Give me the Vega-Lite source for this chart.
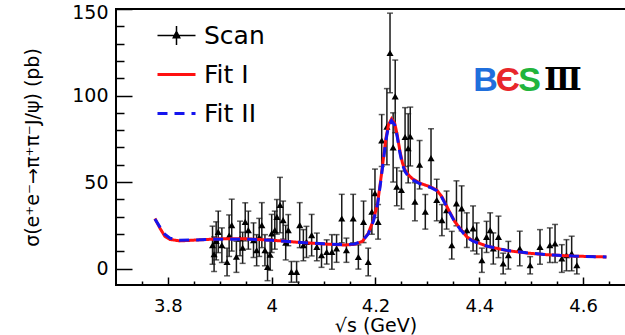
{
  "$schema": "https://vega.github.io/schema/vega-lite/v6.json",
  "width": 510,
  "height": 276,
  "autosize": {"type": "none"},
  "padding": {"left": 116, "top": 9, "right": 0, "bottom": 50},
  "background": "white",
  "config": {
    "view": {"stroke": "black", "strokeWidth": 2},
    "font": "DejaVu Sans",
    "axis": {"domain": false, "grid": false, "labelFont": "DejaVu Sans", "titleFont": "DejaVu Sans", "labelColor": "black", "titleColor": "black", "tickColor": "black", "tickWidth": 1.5, "titleFontWeight": "normal", "labelOverlap": false, "labelBound": false, "labelFlush": false}
  },
  "resolve": {"axis": {"x": "independent", "y": "independent"}},
  "datasets": {
    "scan": [
      {"E": 3.886, "sigma": 13.5, "err": 11}, {"E": 3.889, "sigma": 8.3, "err": 10}, {"E": 3.893, "sigma": 16, "err": 11},
      {"E": 3.897, "sigma": 21.2, "err": 12}, {"E": 3.904, "sigma": 13.5, "err": 10}, {"E": 3.914, "sigma": 3.8, "err": 8},
      {"E": 3.918, "sigma": 19, "err": 12}, {"E": 3.923, "sigma": 25.1, "err": 15}, {"E": 3.932, "sigma": 6.8, "err": 9},
      {"E": 3.939, "sigma": 17.4, "err": 10}, {"E": 3.944, "sigma": 12, "err": 9}, {"E": 3.949, "sigma": 27.0, "err": 11},
      {"E": 3.955, "sigma": 22.2, "err": 11}, {"E": 3.965, "sigma": 16.4, "err": 10}, {"E": 3.971, "sigma": 10.6, "err": 9},
      {"E": 3.976, "sigma": 18, "err": 11}, {"E": 3.981, "sigma": 25.1, "err": 13}, {"E": 3.987, "sigma": 10.6, "err": 9},
      {"E": 3.992, "sigma": 1.0, "err": 8}, {"E": 3.997, "sigma": 8, "err": 9}, {"E": 4.000, "sigma": 20.3, "err": 11},
      {"E": 4.006, "sigma": 22.2, "err": 11}, {"E": 4.010, "sigma": 29.9, "err": 10}, {"E": 4.016, "sigma": 36.7, "err": 16},
      {"E": 4.022, "sigma": 28.0, "err": 11}, {"E": 4.027, "sigma": 15, "err": 10}, {"E": 4.032, "sigma": 22.2, "err": 9},
      {"E": 4.038, "sigma": -1.9, "err": 6}, {"E": 4.048, "sigma": -1.9, "err": 6}, {"E": 4.054, "sigma": 25.1, "err": 13},
      {"E": 4.061, "sigma": 13.5, "err": 9}, {"E": 4.067, "sigma": 15.4, "err": 9}, {"E": 4.077, "sigma": 19.3, "err": 12},
      {"E": 4.087, "sigma": 12.5, "err": 8}, {"E": 4.096, "sigma": 7.7, "err": 7}, {"E": 4.106, "sigma": 9.6, "err": 7},
      {"E": 4.116, "sigma": 9.6, "err": 10}, {"E": 4.125, "sigma": 11.6, "err": 8}, {"E": 4.135, "sigma": 28.9, "err": 14},
      {"E": 4.144, "sigma": 10.6, "err": 7}, {"E": 4.157, "sigma": 28.9, "err": 14}, {"E": 4.167, "sigma": 6.7, "err": 7},
      {"E": 4.177, "sigma": 27.0, "err": 12}, {"E": 4.186, "sigma": 3.8, "err": 8}, {"E": 4.193, "sigma": 32.8, "err": 13},
      {"E": 4.199, "sigma": 43.5, "err": 14}, {"E": 4.205, "sigma": 27.0, "err": 10}, {"E": 4.212, "sigma": 74, "err": 15},
      {"E": 4.222, "sigma": 82, "err": 22}, {"E": 4.228, "sigma": 124.6, "err": 23}, {"E": 4.234, "sigma": 70, "err": 20},
      {"E": 4.238, "sigma": 99.5, "err": 21}, {"E": 4.241, "sigma": 47.3, "err": 11}, {"E": 4.250, "sigma": 45.4, "err": 11},
      {"E": 4.257, "sigma": 76, "err": 17}, {"E": 4.263, "sigma": 69.5, "err": 20}, {"E": 4.267, "sigma": 76.3, "err": 17},
      {"E": 4.276, "sigma": 38.6, "err": 11}, {"E": 4.285, "sigma": 60, "err": 14}, {"E": 4.296, "sigma": 32.8, "err": 10},
      {"E": 4.307, "sigma": 63.8, "err": 17}, {"E": 4.318, "sigma": 39.6, "err": 12}, {"E": 4.328, "sigma": 28.0, "err": 9},
      {"E": 4.337, "sigma": 33.8, "err": 11}, {"E": 4.347, "sigma": 13.5, "err": 8}, {"E": 4.356, "sigma": 37.7, "err": 13},
      {"E": 4.366, "sigma": 34.8, "err": 13}, {"E": 4.376, "sigma": 22.2, "err": 10}, {"E": 4.388, "sigma": 23.2, "err": 13},
      {"E": 4.395, "sigma": 17.4, "err": 9}, {"E": 4.405, "sigma": 4.8, "err": 7}, {"E": 4.414, "sigma": 18.3, "err": 9},
      {"E": 4.421, "sigma": 22.2, "err": 10}, {"E": 4.427, "sigma": 11.6, "err": 9}, {"E": 4.437, "sigma": 18.3, "err": 12},
      {"E": 4.446, "sigma": 2.9, "err": 6}, {"E": 4.456, "sigma": 7.7, "err": 8}, {"E": 4.478, "sigma": 11.6, "err": 10},
      {"E": 4.498, "sigma": 1.9, "err": 5}, {"E": 4.517, "sigma": 12.5, "err": 10}, {"E": 4.536, "sigma": 13.5, "err": 10},
      {"E": 4.546, "sigma": 14.5, "err": 11}, {"E": 4.559, "sigma": 5.8, "err": 8}, {"E": 4.568, "sigma": 7.7, "err": 9},
      {"E": 4.578, "sigma": 8.7, "err": 10}, {"E": 4.588, "sigma": 1.9, "err": 5}
    ],
    "fits": [
      {"fit": "Fit I", "E": 3.775, "sigma": 28.9}, {"fit": "Fit I", "E": 3.785, "sigma": 23.2}, {"fit": "Fit I", "E": 3.794, "sigma": 18.7},
      {"fit": "Fit I", "E": 3.804, "sigma": 16.8}, {"fit": "Fit I", "E": 3.823, "sigma": 16.0}, {"fit": "Fit I", "E": 3.849, "sigma": 16.4},
      {"fit": "Fit I", "E": 3.9, "sigma": 17.2}, {"fit": "Fit I", "E": 3.95, "sigma": 17.2}, {"fit": "Fit I", "E": 4.0, "sigma": 16.4},
      {"fit": "Fit I", "E": 4.05, "sigma": 15.2}, {"fit": "Fit I", "E": 4.1, "sigma": 14.2}, {"fit": "Fit I", "E": 4.14, "sigma": 13.6},
      {"fit": "Fit I", "E": 4.16, "sigma": 14.0}, {"fit": "Fit I", "E": 4.175, "sigma": 15.8}, {"fit": "Fit I", "E": 4.186, "sigma": 20.3},
      {"fit": "Fit I", "E": 4.196, "sigma": 28.0}, {"fit": "Fit I", "E": 4.204, "sigma": 37.7}, {"fit": "Fit I", "E": 4.21, "sigma": 51},
      {"fit": "Fit I", "E": 4.215, "sigma": 63}, {"fit": "Fit I", "E": 4.22, "sigma": 75}, {"fit": "Fit I", "E": 4.225, "sigma": 83},
      {"fit": "Fit I", "E": 4.231, "sigma": 86.5}, {"fit": "Fit I", "E": 4.237, "sigma": 84}, {"fit": "Fit I", "E": 4.242, "sigma": 77},
      {"fit": "Fit I", "E": 4.247, "sigma": 68}, {"fit": "Fit I", "E": 4.252, "sigma": 61}, {"fit": "Fit I", "E": 4.257, "sigma": 57},
      {"fit": "Fit I", "E": 4.264, "sigma": 54}, {"fit": "Fit I", "E": 4.27, "sigma": 52.2}, {"fit": "Fit I", "E": 4.286, "sigma": 49.3},
      {"fit": "Fit I", "E": 4.305, "sigma": 47.3}, {"fit": "Fit I", "E": 4.318, "sigma": 45.4}, {"fit": "Fit I", "E": 4.328, "sigma": 41.5},
      {"fit": "Fit I", "E": 4.341, "sigma": 33.8}, {"fit": "Fit I", "E": 4.353, "sigma": 27.0}, {"fit": "Fit I", "E": 4.363, "sigma": 23.2},
      {"fit": "Fit I", "E": 4.376, "sigma": 18.3}, {"fit": "Fit I", "E": 4.388, "sigma": 16.0}, {"fit": "Fit I", "E": 4.414, "sigma": 13.0},
      {"fit": "Fit I", "E": 4.453, "sigma": 10.4}, {"fit": "Fit I", "E": 4.491, "sigma": 9.0}, {"fit": "Fit I", "E": 4.53, "sigma": 8.0},
      {"fit": "Fit I", "E": 4.581, "sigma": 7.2}, {"fit": "Fit I", "E": 4.645, "sigma": 6.7},
      {"fit": "Fit II", "E": 3.775, "sigma": 28.6}, {"fit": "Fit II", "E": 3.785, "sigma": 23.8}, {"fit": "Fit II", "E": 3.794, "sigma": 19.8},
      {"fit": "Fit II", "E": 3.804, "sigma": 17.6}, {"fit": "Fit II", "E": 3.823, "sigma": 16.4}, {"fit": "Fit II", "E": 3.849, "sigma": 16.5},
      {"fit": "Fit II", "E": 3.9, "sigma": 17.0}, {"fit": "Fit II", "E": 3.95, "sigma": 17.0}, {"fit": "Fit II", "E": 4.0, "sigma": 16.3},
      {"fit": "Fit II", "E": 4.05, "sigma": 15.2}, {"fit": "Fit II", "E": 4.1, "sigma": 14.3}, {"fit": "Fit II", "E": 4.14, "sigma": 13.8},
      {"fit": "Fit II", "E": 4.16, "sigma": 14.2}, {"fit": "Fit II", "E": 4.175, "sigma": 16.0}, {"fit": "Fit II", "E": 4.186, "sigma": 20.0},
      {"fit": "Fit II", "E": 4.196, "sigma": 27.5}, {"fit": "Fit II", "E": 4.204, "sigma": 37.0}, {"fit": "Fit II", "E": 4.21, "sigma": 50},
      {"fit": "Fit II", "E": 4.215, "sigma": 62}, {"fit": "Fit II", "E": 4.22, "sigma": 74}, {"fit": "Fit II", "E": 4.225, "sigma": 82},
      {"fit": "Fit II", "E": 4.231, "sigma": 85.5}, {"fit": "Fit II", "E": 4.237, "sigma": 83}, {"fit": "Fit II", "E": 4.242, "sigma": 76},
      {"fit": "Fit II", "E": 4.247, "sigma": 67}, {"fit": "Fit II", "E": 4.252, "sigma": 60}, {"fit": "Fit II", "E": 4.257, "sigma": 56},
      {"fit": "Fit II", "E": 4.264, "sigma": 53}, {"fit": "Fit II", "E": 4.27, "sigma": 51.5}, {"fit": "Fit II", "E": 4.286, "sigma": 49.0},
      {"fit": "Fit II", "E": 4.305, "sigma": 47.0}, {"fit": "Fit II", "E": 4.318, "sigma": 45.0}, {"fit": "Fit II", "E": 4.328, "sigma": 41.0},
      {"fit": "Fit II", "E": 4.341, "sigma": 33.5}, {"fit": "Fit II", "E": 4.353, "sigma": 26.8}, {"fit": "Fit II", "E": 4.363, "sigma": 22.8},
      {"fit": "Fit II", "E": 4.376, "sigma": 18.0}, {"fit": "Fit II", "E": 4.388, "sigma": 15.8}, {"fit": "Fit II", "E": 4.414, "sigma": 13.0},
      {"fit": "Fit II", "E": 4.453, "sigma": 10.5}, {"fit": "Fit II", "E": 4.491, "sigma": 9.1}, {"fit": "Fit II", "E": 4.53, "sigma": 8.0},
      {"fit": "Fit II", "E": 4.581, "sigma": 7.2}, {"fit": "Fit II", "E": 4.645, "sigma": 6.7}
    ]
  },
  "layer": [
    {
      "data": {"name": "scan"},
      "mark": {"type": "errorbar", "ticks": {"size": 6}, "color": "#1a1a1a", "thickness": 1.5},
      "encoding": {
        "x": {
          "field": "E", "type": "quantitative",
          "scale": {"domain": [3.7, 4.6827], "nice": false, "zero": false},
          "axis": {
            "orient": "bottom",
            "values": [3.8, 4.0, 4.2, 4.4, 4.6],
            "format": "~g",
            "tickSize": -8,
            "labelFontSize": 18,
            "labelPadding": 20,
            "title": "√s (GeV)",
            "titleFontSize": 19,
            "titleX": 259.5,
            "titleY": 40,
            "titleBaseline": "middle"
          }
        },
        "y": {
          "field": "sigma", "type": "quantitative",
          "scale": {"domain": [-9.5, 150], "nice": false, "zero": false},
          "axis": {
            "orient": "left",
            "values": [0, 50, 100],
            "tickSize": -16,
            "labelFontSize": 19,
            "labelPadding": 24,
            "title": "σ(e⁺e⁻→π⁺π⁻J/ψ) (pb)",
            "titleFontSize": 19,
            "titleX": -84,
            "titleBaseline": "middle"
          }
        },
        "yError": {"field": "err"}
      }
    },
    {
      "data": {"name": "scan"},
      "mark": {"type": "point", "shape": "triangle-up", "filled": true, "color": "black", "size": 50, "opacity": 1},
      "encoding": {
        "x": {
          "field": "E", "type": "quantitative",
          "axis": {"orient": "bottom", "values": [3.75, 3.85, 3.9, 3.95, 4.05, 4.1, 4.15, 4.25, 4.3, 4.35, 4.45, 4.5, 4.55, 4.65], "tickSize": -4, "labels": false, "title": null}
        },
        "y": {
          "field": "sigma", "type": "quantitative",
          "axis": {"orient": "left", "values": [10, 20, 30, 40, 60, 70, 80, 90, 110, 120, 130, 140], "tickSize": -8, "labels": false, "title": null}
        }
      }
    },
    {
      "data": {"name": "fits"},
      "mark": {"type": "line", "strokeWidth": 3, "clip": true},
      "encoding": {
        "x": {"field": "E", "type": "quantitative", "axis": null},
        "y": {
          "field": "sigma", "type": "quantitative",
          "axis": {"orient": "left", "values": [150], "tickSize": -16, "labelFontSize": 19, "labelPadding": 24, "labelOffset": 3, "title": null}
        },
        "color": {
          "field": "fit", "type": "nominal",
          "scale": {"domain": ["Scan", "Fit I", "Fit II"], "range": ["black", "#ff1010", "#1515ee"]},
          "legend": {
            "orient": "none", "legendX": 48, "legendY": 14, "title": null,
            "labelFontSize": 25, "labelFont": "DejaVu Sans", "labelColor": "black",
            "symbolSize": 1444, "symbolStrokeWidth": 3, "rowPadding": 13, "labelOffset": 15, "padding": 0,
            "symbolType": "stroke",
            "encode": {
              "symbols": {
                "update": {
                  "shape": {"signal": "datum.value === 'Scan' ? 'M-1,0H1M0,-0.5V0.5M0,-0.22L0.17,0.12L-0.17,0.12Z' : 'stroke'"},
                  "strokeWidth": {"signal": "datum.value === 'Scan' ? 1.5 : 3"},
                  "fill": {"signal": "datum.value === 'Scan' ? 'black' : 'transparent'"}
                }
              }
            }
          }
        },
        "strokeDash": {
          "field": "fit", "type": "nominal",
          "scale": {"domain": ["Scan", "Fit I", "Fit II"], "range": [[1, 0], [1, 0], [10, 7]]}
        }
      }
    },
    {
      "data": {"values": [{}]},
      "mark": {"type": "text", "text": "B", "font": "Liberation Sans", "fontSize": 34, "fontWeight": "bold", "color": "#1f6fdc", "baseline": "middle", "align": "center"},
      "encoding": {"x": {"datum": 4.412, "axis": null}, "y": {"datum": 108.6, "axis": null}}
    },
    {
      "data": {"values": [{}]},
      "mark": {"type": "text", "text": "Є", "font": "Liberation Sans", "fontSize": 34, "fontWeight": "bold", "color": "#e8262b", "baseline": "middle", "align": "center"},
      "encoding": {"x": {"datum": 4.455, "axis": null}, "y": {"datum": 108.6, "axis": null}}
    },
    {
      "data": {"values": [{}]},
      "mark": {"type": "text", "text": "S", "font": "Liberation Sans", "fontSize": 34, "fontWeight": "bold", "color": "#22b43c", "baseline": "middle", "align": "center"},
      "encoding": {"x": {"datum": 4.497, "axis": null}, "y": {"datum": 108.6, "axis": null}}
    },
    {
      "data": {"values": [{}]},
      "mark": {"type": "text", "text": "Ⅲ", "font": "DejaVu Serif", "fontSize": 31, "fontWeight": "bold", "color": "black", "baseline": "middle", "align": "center"},
      "encoding": {"x": {"datum": 4.561, "axis": null}, "y": {"datum": 108.6, "axis": null}}
    }
  ]
}
